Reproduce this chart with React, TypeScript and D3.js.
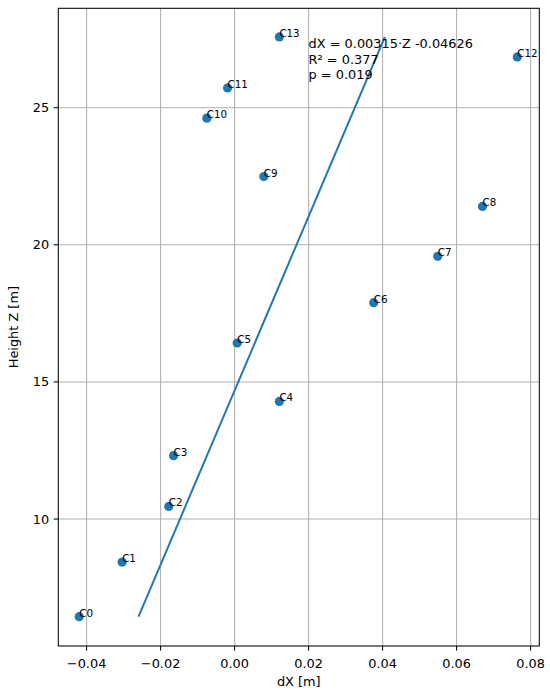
import React from "react";
import * as d3 from "d3";

const labels = ["C0", "C1", "C2", "C3", "C4", "C5", "C6", "C7", "C8", "C9", "C10", "C11", "C12", "C13"];
const dX = [-0.0420, -0.0304, -0.0178, -0.0165, 0.0121, 0.0007, 0.0376, 0.0549, 0.0670, 0.0079, -0.0075, -0.0019, 0.0764, 0.0121];
const heightZ = [6.44, 8.43, 10.46, 12.31, 14.29, 16.42, 17.89, 19.58, 21.40, 22.49, 24.62, 25.72, 26.85, 27.58];
const xTicks = [-0.04, -0.02, 0.0, 0.02, 0.04, 0.06, 0.08];
const yTicks = [10, 15, 20, 25];
const slope = 0.00315;
const intercept = -0.04626;
const statLines = ["dX = 0.00315·Z -0.04626", "R² = 0.377", "p = 0.019"];

const W = 550;
const H = 698;
const M = { left: 58.3, right: 539.3, top: 8.3, bottom: 646 };
const BLUE = "#1f77b4";
const FONT = "DejaVu Sans, sans-serif";

export default function App() {
  const x = d3.scaleLinear().domain([-0.04765, 0.08235]).range([M.left, M.right]);
  const y = d3.scaleLinear().domain([5.37, 28.625]).range([M.bottom, M.top]);
  const zMin = d3.min(heightZ) as number;
  const zMax = d3.max(heightZ) as number;
  const fitPts: [number, number][] = [zMin, zMax].map((z) => [slope * z + intercept, z]);
  const line = d3
    .line<[number, number]>()
    .x((d) => x(d[0]))
    .y((d) => y(d[1]));
  const fmtX = (v: number) => d3.format(".2f")(v).replace("-", "−");

  return (
    <div style={{ position: "absolute", left: 0, top: 0 }}>
      <svg width={W} height={H} style={{ display: "block", background: "#fff" }} fontFamily={FONT}>
        <rect x={0} y={0} width={W} height={H} fill="#fff" />
        {/* grid */}
        <g stroke="#b0b0b0" strokeWidth={1.05}>
          {xTicks.map((t) => (
            <line key={"gx" + t} x1={x(t)} x2={x(t)} y1={M.top} y2={M.bottom} />
          ))}
          {yTicks.map((t) => (
            <line key={"gy" + t} x1={M.left} x2={M.right} y1={y(t)} y2={y(t)} />
          ))}
        </g>
        {/* points */}
        {dX.map((v, i) => (
          <circle key={"p" + i} cx={x(v)} cy={y(heightZ[i])} r={4.6} fill={BLUE} />
        ))}
        {/* fit line */}
        <path d={line(fitPts) || ""} fill="none" stroke={BLUE} strokeWidth={2} />
        {/* point labels */}
        {dX.map((v, i) => (
          <text key={"l" + i} x={x(v)} y={y(heightZ[i])} fontSize={10.3} fill="#000">
            {labels[i]}
          </text>
        ))}
        {/* stats */}
        <text x={x(0.02)} y={y(zMax)} fontSize={12.9} fill="#000">
          {statLines.map((s, i) => (
            <tspan key={i} x={x(0.02)} dy={i === 0 ? 11 : 15.6}>
              {s}
            </tspan>
          ))}
        </text>
        {/* spines */}
        <rect
          x={M.left}
          y={M.top}
          width={M.right - M.left}
          height={M.bottom - M.top}
          fill="none"
          stroke="#000"
          strokeWidth={1.05}
        />
        {/* x ticks */}
        {xTicks.map((t) => (
          <g key={"tx" + t}>
            <line x1={x(t)} x2={x(t)} y1={M.bottom} y2={M.bottom + 4.6} stroke="#000" strokeWidth={1.05} />
            <text x={x(t)} y={M.bottom + 21.5} fontSize={12.9} textAnchor="middle" fill="#000">
              {fmtX(t)}
            </text>
          </g>
        ))}
        {yTicks.map((t) => (
          <g key={"ty" + t}>
            <line x1={M.left - 4.6} x2={M.left} y1={y(t)} y2={y(t)} stroke="#000" strokeWidth={1.05} />
            <text x={M.left - 9.2} y={y(t)} dy="0.35em" fontSize={12.9} textAnchor="end" fill="#000">
              {t}
            </text>
          </g>
        ))}
        <text x={(M.left + M.right) / 2} y={686} fontSize={12.9} textAnchor="middle" fill="#000">
          dX [m]
        </text>
        <text
          transform={`translate(17.5, ${(M.top + M.bottom) / 2}) rotate(-90)`}
          fontSize={12.9}
          textAnchor="middle"
          fill="#000"
        >
          Height Z [m]
        </text>
      </svg>
    </div>
  );
}
